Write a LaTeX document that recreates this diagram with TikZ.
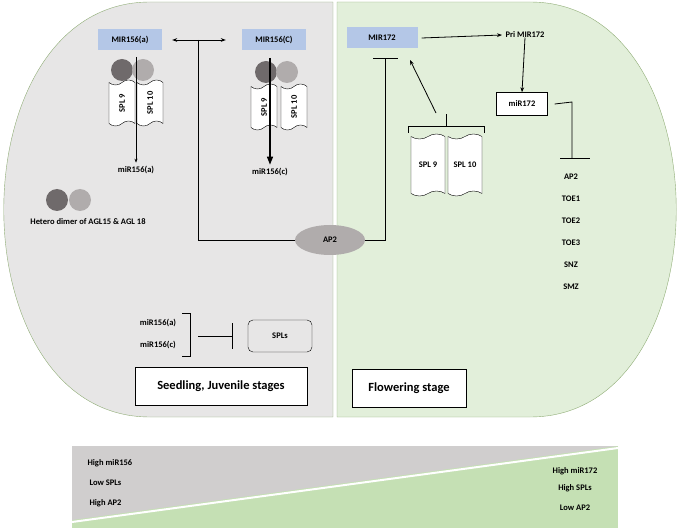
\documentclass[tikz,border=0pt]{standalone}
\usepackage{fontspec}
\setmainfont{Carlito}
\usetikzlibrary{shapes.symbols,shapes.geometric,arrows.meta,calc}
\definecolor{panelgrey}{HTML}{E7E6E6}
\definecolor{panelgreen}{HTML}{E2EFDA}
\definecolor{edgegreen}{HTML}{8FAC75}
\definecolor{boxblue}{HTML}{B4C7E7}
\definecolor{darkball}{HTML}{6F6A6B}
\definecolor{lightball}{HTML}{B0ACAC}
\definecolor{wedgegrey}{HTML}{D0CECE}
\definecolor{wedgegreen}{HTML}{C5E0B4}
\tikzset{
  txt/.style={font=\bfseries\fontsize{8.5}{10}\selectfont},
  mir/.style={txt, fill=boxblue, minimum width=64pt, minimum height=21pt},
  spl/.style={txt, draw, tape, fill=white, minimum width=26pt, minimum height=46pt, inner sep=1pt},
  ball/.style={circle, minimum size=22pt, inner sep=0pt},
  inh/.style={-{Bar[width=26pt]}, thick},
  act/.style={-{Stealth[length=5pt]}, thick},
}
\begin{document}
\begin{tikzpicture}[x=1pt,y=-1pt]
        \useasboundingbox (0,0) rectangle (685,529);
        % Panneaux
        \draw[edgegreen, fill=panelgrey] (333,2) -- (150,2) .. controls (-45,2) and (-45,417) .. (150,417) -- (333,417) -- cycle;
        \draw[edgegreen, fill=panelgreen] (337,2) -- (530,2) .. controls (725,2) and (725,417) .. (530,417) -- (337,417) -- cycle;
        % Gradient du bas
        \fill[wedgegreen] (72,446) rectangle (618,528);
        \fill[wedgegrey] (72,446) -- (618,446) -- (72,520) -- cycle;
        \draw[white, line width=2pt] (72,522) -- (618,448);
        \node[txt, anchor=west] at (84,463) {High miR156};
        \node[txt, anchor=west] at (86,483) {Low SPLs};
        \node[txt, anchor=west] at (86,503) {High AP2};
        \node[txt] at (575,471) {High miR172};
        \node[txt] at (575,488) {High SPLs};
        \node[txt] at (575,508) {Low AP2};
        % MIR156
        \node[mir] (mira) at (130,40) {MIR156(a)};
        \node[mir] (mirc) at (274,40) {MIR156(C)};
        \node[ellipse, fill=lightball, minimum width=70pt, minimum height=30pt, txt] (ap2) at (330,240) {AP2};
        \coordinate (ja) at (198,40);
        \draw[{Stealth[length=5pt]}-{Stealth[length=5pt]}, thick] ($(mira.east)+(10,0)$) -- ($(mirc.west)+(-16,0)$);
        \draw[thick] (ja) |- (ap2.west);
        % Dimères et SPL (a)
        \node[ball, fill=darkball] (da) at (122,70) {};
        \node[ball, fill=lightball] (la) at (143,70) {};
        \node[spl] (s9a) at (122,103) {\rotatebox{90}{SPL 9}};
        \node[spl] (s10a) at (150,103) {\rotatebox{90}{SPL 10}};
        \node[txt] (ma) at (136,170) {miR156(a)};
        \draw[-{Stealth[length=4pt]}, semithick] (136,57) -- (ma.north);
        % Dimères et SPL (c)
        \node[ball, fill=darkball] (dc) at (266,72) {};
        \node[ball, fill=lightball] (lc) at (287,72) {};
        \node[spl] (s9c) at (264,107) {\rotatebox{90}{SPL 9}};
        \node[spl] (s10c) at (294,107) {\rotatebox{90}{SPL 10}};
        \node[txt] (mc) at (270,172) {miR156(c)};
        \draw[-{Triangle[length=8pt,width=6pt]}, line width=1.3pt] (270,58) -- (mc.north);
        % Hétérodimère
        \node[ball, fill=darkball] (dh) at (57,200) {};
        \node[ball, fill=lightball] (lh) at (80,200) {};
        \node[txt] (het) at (88,222) {Hetero dimer of AGL15 \& AGL 18};
        % miR156 -| SPLs
        \node[txt] (m1) at (158,323) {miR156(a)};
        \node[txt] (m2) at (158,345) {miR156(c)};
        \draw (182,313) -- (190,313) -- (190,356) -- (182,356);
        \node[txt, draw, rounded corners=5pt, minimum width=64pt, minimum height=32pt] (spls) at (280,336) {SPLs};
        \draw[inh] (198,336) -- (233,336);
        % Stades
        \node[draw, thick, fill=white, minimum width=172pt, minimum height=38pt, font=\bfseries\fontsize{12.5}{14}\selectfont] (juv) at (221,386) {Seedling, Juvenile stages};
        \node[draw, thick, fill=white, minimum width=114pt, minimum height=38pt, font=\bfseries\fontsize{12.5}{14}\selectfont] (flo) at (409,388) {Flowering stage};
        % MIR172
        \node[mir, minimum width=71pt] (m172) at (382,38) {MIR172};
        \node[txt] (pri) at (525,35) {Pri MIR172};
        \node[txt, draw, fill=white, minimum width=51pt, minimum height=23pt] (mi172) at (522,104) {miR172};
        \draw[act] ($(m172.east)+(4,0)$) -- (pri.west);
        \draw[act] ($(pri.south)+(0,-4)$) -- (mi172.north);
        % miR172 -| cibles
        \draw[thick] ($(mi172.east)+(7,0)$) -- (572,102) -- (572,158);
        \draw[thick] (560,158) -- (590,158);
        \foreach \t [count=\i] in {AP2,TOE1,TOE2,TOE3,SNZ,SMZ}
          \node[txt] (g\i) at (571,155+22*\i) {\t};
        % AP2 -| MIR172
        \draw[thick] (ap2.east) -- (385,240) -- (385,58);
        \draw[thick] (373,58) -- (398,58);
        % SPL 9/10 -> MIR172
        \node[spl, minimum width=34pt, minimum height=62pt, inner sep=2pt] (s9f) at (428,165) {SPL 9};
        \node[spl, minimum width=34pt, minimum height=62pt, inner sep=2pt] (s10f) at (465,165) {SPL 10};
        \draw[thick] (408,133) -- (408,126) -- (484,126) -- (484,133);
        \draw[thick] (446,126) -- (446,114);
        \draw[act] (436,113) -- (410,60);
\end{tikzpicture}
\end{document}
